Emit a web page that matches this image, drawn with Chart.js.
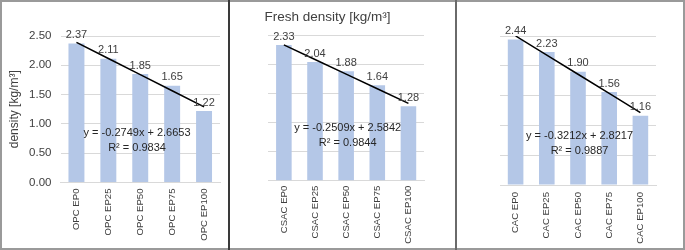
<!DOCTYPE html>
<html>
<head>
<meta charset="utf-8">
<script src="https://cdn.jsdelivr.net/npm/chart.js@4/dist/chart.umd.min.js"></script>
<style>
    body { margin: 0; background: #fff; }
    #frame { position: absolute; left: 0; top: 0; width: 685px; height: 250px; box-sizing: border-box; border: 2px solid #9a9a9a; }
    .sep { position: absolute; top: 0; height: 250px; width: 2px; }
    .panel { position: absolute; top: 2px; height: 245px; }
</style>
</head>
<body>
<div id="frame"></div>
<div class="sep" style="left:228px;background:#3a3a3a"></div>
<div class="sep" style="left:455px;background:#6a6a6a"></div>
<div class="panel" style="left:3px;width:225px"><canvas id="c1"></canvas></div>
<div class="panel" style="left:231px;width:224px"><canvas id="c2"></canvas></div>
<div class="panel" style="left:458px;width:225px"><canvas id="c3"></canvas></div>
<script>
// values
const opcLabels = ['OPC EP0', 'OPC EP25', 'OPC EP50', 'OPC EP75', 'OPC EP100'];
const csacLabels = ['CSAC EP0', 'CSAC EP25', 'CSAC EP50', 'CSAC EP75', 'CSAC EP100'];
const cacLabels = ['CAC EP0', 'CAC EP25', 'CAC EP50', 'CAC EP75', 'CAC EP100'];

const opcDensity = [2.37, 2.11, 1.85, 1.65, 1.22];
const csacDensity = [2.33, 2.04, 1.88, 1.64, 1.28];
const cacDensity = [2.44, 2.23, 1.90, 1.56, 1.16];

// linear trendlines as printed on the chart
const trendSlope = [-0.2749, -0.2509, -0.3212];
const trendIntercept = [2.6653, 2.5842, 2.8217];
const trendR2 = ['0.9834', '0.9844', '0.9887'];

const yMin = 0, yMax = 2.5, yStep = 0.5;

const FONT = "'Liberation Sans', Arial, sans-serif";
const BAR_COLOR = '#b4c7e7';
const GRID_COLOR = '#d9d9d9';

function trendValues(k, n)
{
    let out = [];
    for (let i = 1; i <= n; i++) out.push(trendSlope[k] * i + trendIntercept[k]);
    return out;
}

const barValueLabels = {
    id: 'barValueLabels',
    afterDatasetsDraw(chart)
    {
        let ctx = chart.ctx;
        let meta = chart.getDatasetMeta(0);
        let data = chart.data.datasets[0].data;
        ctx.save();
        ctx.font = '11px ' + FONT;
        ctx.fillStyle = '#404040';
        ctx.textAlign = 'center';
        ctx.textBaseline = 'bottom';
        meta.data.forEach(function(bar, i) {
            ctx.fillText(data[i].toFixed(2), bar.x, bar.y - 3);
        });
        ctx.restore();
    }
};

const trendLabel = {
    id: 'trendLabel',
    afterDraw(chart, args, opts)
    {
        if (!opts || !opts.lines) return;
        let ctx = chart.ctx;
        let x = chart.scales.x.getPixelForValue(opts.xIndex);
        let y = chart.scales.y.getPixelForValue(opts.yValue);
        ctx.save();
        ctx.font = '11px ' + FONT;
        ctx.fillStyle = '#262626';
        ctx.textAlign = 'center';
        ctx.textBaseline = 'middle';
        opts.lines.forEach(function(line, i) {
            ctx.fillText(line, x, y + i * 15);
        });
        ctx.restore();
    }
};

function makeChart(id, k, labels, values, cfg)
{
    new Chart(document.getElementById(id), {
        type: 'bar',
        data: {
            labels: labels,
            datasets: [
                {
                    type: 'bar',
                    data: values,
                    backgroundColor: BAR_COLOR,
                    categoryPercentage: 1,
                    barPercentage: 0.5,
                    order: 2
                },
                {
                    type: 'line',
                    data: trendValues(k, values.length),
                    borderColor: '#000',
                    borderWidth: 1.5,
                    pointRadius: 0,
                    fill: false,
                    order: 1
                }
            ]
        },
        options: {
            responsive: true,
            maintainAspectRatio: false,
            animation: false,
            layout: { padding: { top: cfg.padTop, right: cfg.padRight, left: 0, bottom: 0 } },
            plugins: {
                legend: { display: false },
                tooltip: { enabled: false },
                title: {
                    display: !!cfg.title,
                    text: cfg.title,
                    color: '#404040',
                    font: { family: FONT, size: 13.5, weight: 'normal' },
                    padding: { top: 7, bottom: 10 }
                },
                trendLabel: {
                    lines: ['y = ' + trendSlope[k] + 'x + ' + trendIntercept[k], 'R\u00b2 = ' + trendR2[k]],
                    xIndex: cfg.eqX,
                    yValue: cfg.eqY
                }
            },
            scales: {
                x: {
                    grid: { display: false, drawTicks: false },
                    border: { color: GRID_COLOR },
                    ticks: {
                        color: '#404040',
                        font: { family: FONT, size: 9.6 },
                        minRotation: 90,
                        maxRotation: 90,
                        padding: cfg.xPad
                    },
                    afterFit(s) { s.height = cfg.xHeight; }
                },
                y: {
                    min: yMin,
                    max: yMax,
                    grid: { color: GRID_COLOR, drawTicks: false },
                    border: { display: false },
                    ticks: {
                        display: cfg.showY,
                        stepSize: yStep,
                        color: '#404040',
                        font: { family: FONT, size: 11.5 },
                        padding: 9,
                        callback: function(v) { return v.toFixed(2); }
                    },
                    title: {
                        display: cfg.showY,
                        text: 'density [kg/m\u00b3]',
                        color: '#404040',
                        font: { family: FONT, size: 12 },
                        padding: { top: 4, bottom: 0 }
                    },
                    afterFit(s) { s.width = cfg.yWidth; }
                }
            }
        },
        plugins: [barValueLabels, trendLabel]
    });
}

makeChart('c1', 0, opcLabels, opcDensity,
    { padTop: 34, padRight: 8, xHeight: 64.5, xPad: 6, yWidth: 57.5, showY: true, eqX: 1.9, eqY: 0.85 });
makeChart('c2', 1, csacLabels, csacDensity,
    { padTop: 0, padRight: 31, xHeight: 66.3, xPad: 5, yWidth: 37.3, showY: false, title: 'Fresh density [kg/m\u00b3]', eqX: 2.05, eqY: 0.9 });
makeChart('c3', 2, cacLabels, cacDensity,
    { padTop: 34, padRight: 27, xHeight: 62, xPad: 7, yWidth: 42, showY: false, eqX: 2.05, eqY: 0.83 });
</script>
</body>
</html>
